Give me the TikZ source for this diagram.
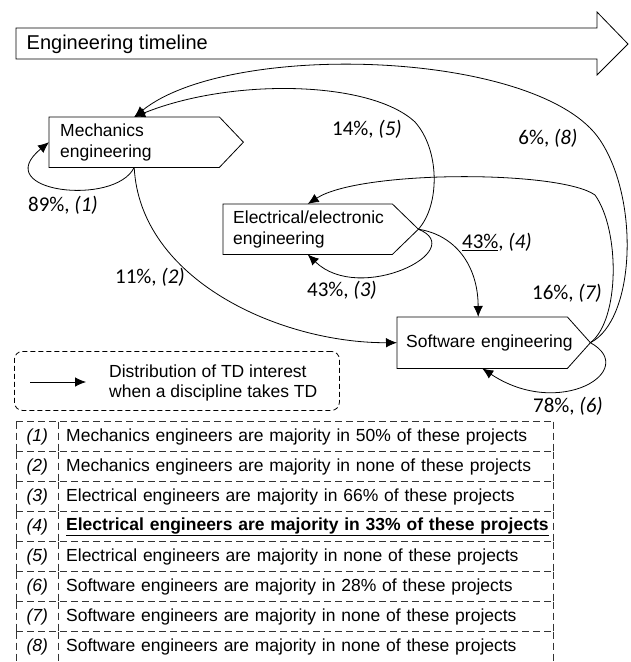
\documentclass[tikz,border=0pt]{standalone}
\usepackage{fontspec}
\setmainfont{Liberation Sans}
\newfontfamily\labfont{Carlito}
\usetikzlibrary{arrows.meta,calc}
\begin{document}
\begin{tikzpicture}[x=1pt,y=-1pt,
  txt/.style={font=\fontsize{17.5}{21}\selectfont},
  conn/.style={line width=0.8pt,-{Latex[length=11pt,width=9.5pt]}},
  outline/.style={line width=0.8pt},
  procbox/.style={txt, inner xsep=10pt, inner ysep=0pt, minimum height=50pt, align=left, anchor=north west},
  lab/.style={font=\labfont\fontsize{21}{24}\selectfont, inner sep=0pt},
  cell/.style={minimum height=30pt, inner ysep=0pt, anchor=north west, txt},
  tline/.style={line width=0.9pt, draw=black!80, dash pattern=on 7pt off 4pt}
]
\useasboundingbox (0,0) rectangle (630,662);

% timeline
\draw[outline] (16,28) -- (597,28) -- (597,12) -- (628,44) -- (597,75) -- (597,59) -- (16,59) -- cycle;
\node[anchor=west, inner sep=0pt, font=\fontsize{20}{24}\selectfont] (tl) at (26.5,44) {Engineering timeline};

% process boxes
\node[procbox, inner xsep=11pt, text width=148pt] (mech) at (49,117) {Mechanics\\engineering};
\draw[outline] (mech.north west) -- (mech.north east) -- ($(mech.east)+(24,0)$) coordinate (mtip) -- (mech.south east) -- (mech.south west) -- cycle;

\node[procbox, text width=149pt] (elec) at (223,204) {Electrical/electronic\\engineering};
\draw[outline] (elec.north west) -- (elec.north east) -- ($(elec.east)+(26,0)$) coordinate (etip) -- (elec.south east) -- (elec.south west) -- cycle;

\node[procbox, inner xsep=9pt, text width=152pt, minimum height=51pt] (soft) at (397,317) {\mbox{Software engineering}};
\draw[outline] (soft.north west) -- (soft.north east) -- ($(soft.east)+(23,0)$) coordinate (stip) -- (soft.south east) -- (soft.south west) -- cycle;

% connectors
\draw[conn] (mech.south) .. controls (115,207) and (-12,192) .. (mech.west);
\draw[conn] (mech.south) .. controls (140,280) and (280,343) .. (soft.west);
\draw[conn] (etip) .. controls (470,250) and (360,305) .. (elec.south);
\draw[conn] (etip) .. controls (455,235) and (478,265) .. ([xshift=-4pt]soft.north);
\draw[conn] (etip) .. controls (440,205) and (440,150) .. (415,122) .. controls (370,80) and (230,78) .. (mech.north);
\draw[conn] (stip) .. controls (635,320) and (640,200) .. (600,140) .. controls (540,50) and (230,40) .. (mech.north);
\draw[conn] (stip) .. controls (620,320) and (620,230) .. (595,195) .. controls (560,170) and (360,170) .. (elec.north);
\draw[conn] (stip) .. controls (640,370) and (560,420) .. (soft.south);

% labels
\node[lab] (l1) at (63,205) {89\%, \textit{(1)}};
\node[lab] (l2) at (150,277) {11\%, \textit{(2)}};
\node[lab] (l3) at (342,290) {43\%, \textit{(3)}};
\node[lab] (l4) at (497,242) {\underline{43\%}, \textit{(4)}};
\node[lab] (l5) at (367,129) {14\%, \textit{(5)}};
\node[lab] (l6) at (568,406) {78\%, \textit{(6)}};
\node[lab] (l7) at (567,293) {16\%, \textit{(7)}};
\node[lab] (l8) at (548,138) {6\%, \textit{(8)}};

% legend
\node[draw, line width=0.8pt, dash pattern=on 5pt off 3pt, rounded corners=8pt, minimum width=325pt, minimum height=59pt, anchor=north west] (legend) at (14,351) {};
\coordinate (la) at (30,382);
\coordinate (lb) at (86,382);
\draw[conn] (la) -- (lb);
\node[anchor=west, align=left, inner sep=0pt, font=\fontsize{17.5}{20}\selectfont] (legtxt) at (109,383) {Distribution of TD interest\\when a discipline takes TD};

% table
\foreach \i/\t in {
  1/{Mechanics engineers are majority in 50\% of these projects},
  2/{Mechanics engineers are majority in none of these projects},
  3/{Electrical engineers are majority in 66\% of these projects},
  4/{\textbf{\underline{Electrical engineers are majority in 33\% of these projects}}},
  5/{Electrical engineers are majority in none of these projects},
  6/{Software engineers are majority in 28\% of these projects},
  7/{Software engineers are majority in none of these projects},
  8/{Software engineers are majority in none of these projects}}{
  \pgfmathsetmacro\yy{421.7+30*(\i-1)}
  \node[cell, minimum width=42pt, inner xsep=0pt] (n\i) at (16,\yy) {\textit{(\i)}};
  \node[cell, minimum width=495pt, inner xsep=8pt, text width=479pt, align=left] (t\i) at (58,\yy) {\t};
  \draw[tline] (n\i.north west) -- (t\i.north east);
  \draw[tline] (n\i.north west) -- (n\i.south west);
  \draw[tline] (t\i.north west) -- (t\i.south west);
  \draw[tline] (t\i.north east) -- (t\i.south east);
}
\end{tikzpicture}
\end{document}
